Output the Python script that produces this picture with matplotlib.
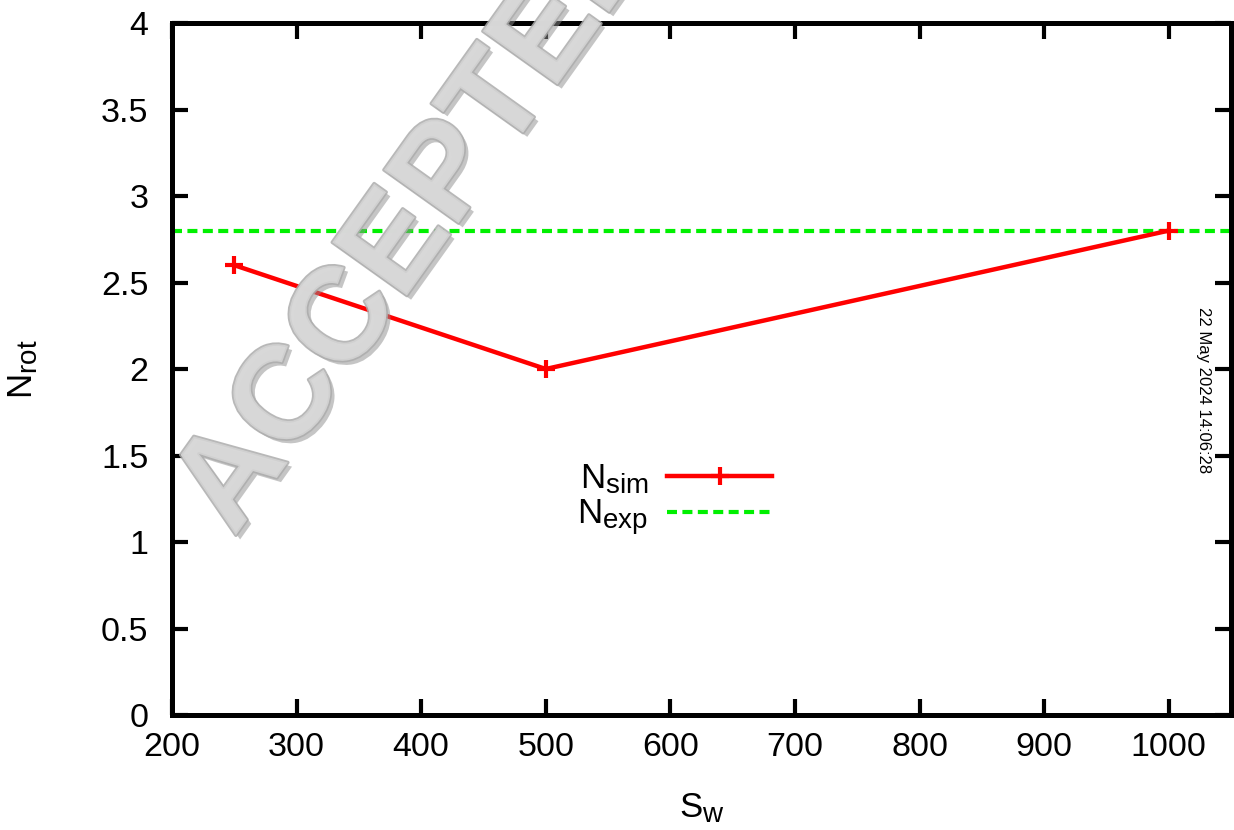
import numpy as np
import matplotlib
matplotlib.use('Agg')
import matplotlib.pyplot as plt
import matplotlib.patheffects as pe
import matplotlib._mathtext as mathtext_mod
from matplotlib.ticker import FuncFormatter

plt.rcParams['font.family'] = ['Liberation Sans', 'DejaVu Sans']
plt.rcParams['mathtext.fontset'] = 'custom'
plt.rcParams['mathtext.rm'] = 'Liberation Sans'
plt.rcParams['mathtext.it'] = 'Liberation Sans'
# gnuplot-like subscripts are a bit bigger than the mathtext default
mathtext_mod.SHRINK_FACTOR = 0.8

# data
sw = [250, 500, 1000]
n_sim = [2.6, 2.0, 2.8]
n_exp = 2.8

x_ticks = [200, 300, 400, 500, 600, 700, 800, 900, 1000]
y_ticks = [0, 0.5, 1, 1.5, 2, 2.5, 3, 3.5, 4]

fig = plt.figure(figsize=(12.34, 8.3), dpi=100)
ax = fig.add_axes([172/1234, 1 - 715/830, (1231 - 172)/1234, (715 - 23)/830])

ax.plot(sw, n_sim, color='#ff0000', lw=3.2, marker='+', ms=13, mew=3,
        label=r'$\mathrm{N_{sim}}$', zorder=3)
ax.axhline(n_exp, color='#00f000', lw=3, dashes=(2.4, 1.3),
           label=r'$\mathrm{N_{exp}}$', zorder=2)

ax.set_xlim(200, 1050)
ax.set_ylim(0, 4)
ax.set_xticks(x_ticks)
ax.set_yticks(y_ticks)
ax.yaxis.set_major_formatter(FuncFormatter(lambda v, p: '%g' % v))

for s in ax.spines.values():
    s.set_linewidth(3.6)
ax.tick_params(direction='in', length=11.5, width=3, labelsize=24.5,
               top=True, right=True)
ax.tick_params(axis='x', pad=12)
ax.tick_params(axis='y', pad=17)

ax.set_xlabel(r'$\mathrm{S_w}$', fontsize=25)
ax.set_ylabel(r'$\mathrm{N_{rot}}$', fontsize=25)
ax.xaxis.set_label_coords(0.5, -0.11)
ax.yaxis.set_label_coords(-0.125, 0.5)

leg = ax.legend(loc='center right', bbox_to_anchor=((789 - 172)/1059, (715 - 500)/692),
                frameon=False, markerfirst=False, fontsize=25, borderpad=0,
                handlelength=3.0, handletextpad=0.55, labelspacing=0.04)

# date stamp
fig.text(1204/1234, 1 - 390/830, '22 May 2024 14:06:28', rotation=-90,
         fontsize=12, ha='center', va='center')

# watermark
fig.text(234/1234, 1 - 538/830, 'ACCEPTED', rotation=54.5, rotation_mode='anchor',
         ha='left', va='baseline', fontsize=96, weight='bold',
         color='#d8d8d8', alpha=0.8, zorder=10,
         path_effects=[pe.withSimplePatchShadow(offset=(3, -3), shadow_rgbFace='#8c8c8c', alpha=0.5),
                       pe.Stroke(linewidth=2.5, foreground='#acacac', alpha=0.85), pe.Normal()])

fig.savefig('out.png', dpi=100)
